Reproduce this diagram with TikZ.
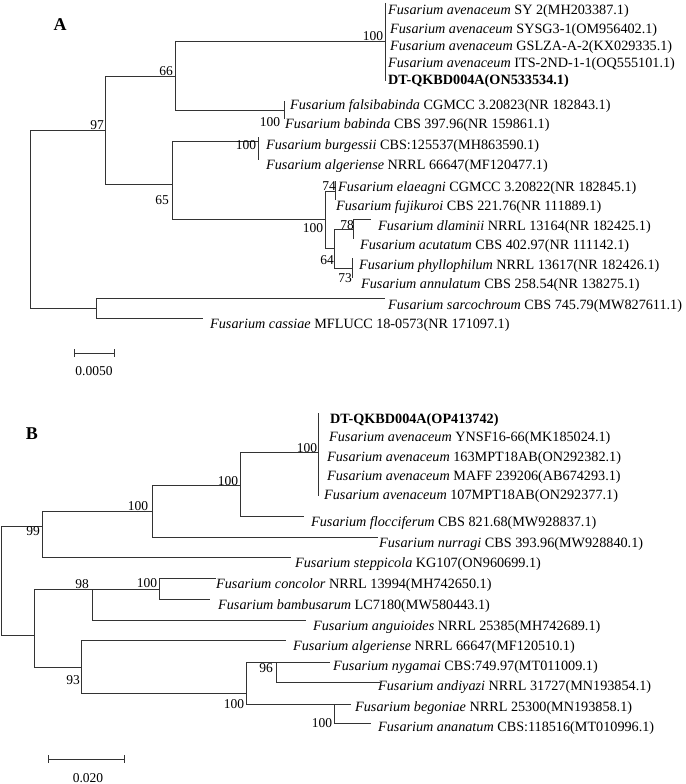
\documentclass[tikz,border=0pt]{standalone}
\usepackage{fontspec}
\setmainfont{Liberation Serif}
\begin{document}
\begin{tikzpicture}[x=1pt,y=-1pt,
  br/.style={draw=black!80,line width=0.8pt},
  lf/.style={anchor=west,font=\fontsize{14.2}{16}\selectfont,inner sep=0pt},
  bs/.style={font=\fontsize{13.5}{15}\selectfont,inner sep=0pt}]
\useasboundingbox (0,0) rectangle (685,784);
% ---------- A ----------
\node[font=\bfseries\fontsize{18}{20}\selectfont] (lA) at (60,25) {A};
\draw[br] (30,130) -- (30,308);
\draw[br] (30,130) -- (105,130) (105,76) -- (105,184);
\draw[br] (105,76) -- (175,76) (175,41) -- (175,110);
\draw[br] (175,41) -- (385,41) (385,3) -- (385,81);
\draw[br] (175,110) -- (284,110) (284,101) -- (284,119);
\draw[br] (105,184) -- (172,184) (172,141) -- (172,219);
\draw[br] (172,141) -- (258,141) (258,137) -- (258,160);
\draw[br] (172,219) -- (325,219) (325,191) -- (325,248);
\draw[br] (325,191) -- (335,191) (335,181) -- (335,200);
\draw[br] (325,248) -- (334,248) (334,229) -- (334,268);
\draw[br] (334,229) -- (353,229) (353,219) -- (353,239);
\draw[br] (353,219) -- (371,219);
\draw[br] (334,268) -- (352,268) (352,258) -- (352,278);
\draw[br] (30,308) -- (96,308) (96,298) -- (96,318);
\draw[br] (96,298) -- (385,298) (96,318) -- (203,318);
\node[bs] at (97,125) {97};
\node[bs] at (166,71) {66};
\node[bs] at (373,36) {100};
\node[bs] at (270,122) {100};
\node[bs] at (162,200) {65};
\node[bs] at (246,145) {100};
\node[bs] at (313,228) {100};
\node[bs] at (329,186) {74};
\node[bs] at (327,260) {64};
\node[bs] at (347,225) {78};
\node[bs] at (345,278) {73};
\node[lf] at (388,11) {\textit{Fusarium avenaceum} SY 2(MH203387.1)};
\node[lf] at (390,30) {\textit{Fusarium avenaceum} SYSG3-1(OM956402.1)};
\node[lf] at (390,47) {\textit{Fusarium avenaceum} GSLZA-A-2(KX029335.1)};
\node[lf] at (388,64) {\textit{Fusarium avenaceum} ITS-2ND-1-1(OQ555101.1)};
\node[lf] at (388,81) {\textbf{DT-QKBD004A(ON533534.1)}};
\node[lf] at (290,106) {\textit{Fusarium falsibabinda} CGMCC 3.20823(NR 182843.1)};
\node[lf] at (285,125) {\textit{Fusarium babinda} CBS 397.96(NR 159861.1)};
\node[lf] at (266,146) {\textit{Fusarium burgessii} CBS:125537(MH863590.1)};
\node[lf] at (266,166) {\textit{Fusarium algeriense} NRRL 66647(MF120477.1)};
\node[lf] at (338,188) {\textit{Fusarium elaeagni} CGMCC 3.20822(NR 182845.1)};
\node[lf] at (336,207) {\textit{Fusarium fujikuroi} CBS 221.76(NR 111889.1)};
\node[lf] at (378,227) {\textit{Fusarium dlaminii} NRRL 13164(NR 182425.1)};
\node[lf] at (360,246) {\textit{Fusarium acutatum} CBS 402.97(NR 111142.1)};
\node[lf] at (359,266) {\textit{Fusarium phyllophilum} NRRL 13617(NR 182426.1)};
\node[lf] at (361,285) {\textit{Fusarium annulatum} CBS 258.54(NR 138275.1)};
\node[lf] at (388,306) {\textit{Fusarium sarcochroum} CBS 745.79(MW827611.1)};
\node[lf] at (210,325) {\textit{Fusarium cassiae} MFLUCC 18-0573(NR 171097.1)};
\draw[br] (74,353) -- (114,353) (74,349) -- (74,357) (114,349) -- (114,357);
\node[bs] at (94,371) {0.0050};
% ---------- B ----------
\node[font=\bfseries\fontsize{18}{20}\selectfont] (lB) at (32,434) {B};
\draw[br] (1,526) -- (1,635);
\draw[br] (1,526) -- (42,526) (42,511) -- (42,557);
\draw[br] (42,511) -- (152,511) (152,485) -- (152,537);
\draw[br] (152,485) -- (240,485) (240,452) -- (240,516);
\draw[br] (240,452) -- (318,452) (318,413) -- (318,496);
\draw[br] (240,516) -- (304,516);
\draw[br] (152,537) -- (378,537);
\draw[br] (42,557) -- (291,557);
\draw[br] (1,635) -- (34,635) (34,589) -- (34,667);
\draw[br] (34,589) -- (159,589) (92,589) -- (92,620);
\draw[br] (159,578) -- (159,599);
\draw[br] (159,578) -- (216,578) (159,599) -- (210,599);
\draw[br] (92,620) -- (306,620);
\draw[br] (34,667) -- (81,667) (81,640) -- (81,693);
\draw[br] (81,640) -- (286,640);
\draw[br] (81,693) -- (246,693) (246,662) -- (246,704);
\draw[br] (246,662) -- (276,662) (276,662) -- (276,682);
\draw[br] (276,662) -- (330,662) (276,682) -- (380,682);
\draw[br] (246,704) -- (334,704) (334,704) -- (334,723);
\draw[br] (334,704) -- (351,704) (334,723) -- (371,723);
\node[bs] at (33,531) {99};
\node[bs] at (138,506) {100};
\node[bs] at (228,481) {100};
\node[bs] at (307,448) {100};
\node[bs] at (82,584) {98};
\node[bs] at (147,583) {100};
\node[bs] at (73,680) {93};
\node[bs] at (266,668) {96};
\node[bs] at (234,704) {100};
\node[bs] at (322,723) {100};
\node[lf] at (330,420) {\textbf{DT-QKBD004A(OP413742)}};
\node[lf] at (329,438) {\textit{Fusarium avenaceum} YNSF16-66(MK185024.1)};
\node[lf] at (327,458) {\textit{Fusarium avenaceum} 163MPT18AB(ON292382.1)};
\node[lf] at (327,477) {\textit{Fusarium avenaceum} MAFF 239206(AB674293.1)};
\node[lf] at (324,496) {\textit{Fusarium avenaceum} 107MPT18AB(ON292377.1)};
\node[lf] at (311,523) {\textit{Fusarium flocciferum} CBS 821.68(MW928837.1)};
\node[lf] at (379,544) {\textit{Fusarium nurragi} CBS 393.96(MW928840.1)};
\node[lf] at (295,564) {\textit{Fusarium steppicola} KG107(ON960699.1)};
\node[lf] at (216,585) {\textit{Fusarium concolor} NRRL 13994(MH742650.1)};
\node[lf] at (218,606) {\textit{Fusarium bambusarum} LC7180(MW580443.1)};
\node[lf] at (313,627) {\textit{Fusarium anguioides} NRRL 25385(MH742689.1)};
\node[lf] at (293,647) {\textit{Fusarium algeriense} NRRL 66647(MF120510.1)};
\node[lf] at (333,667) {\textit{Fusarium nygamai} CBS:749.97(MT011009.1)};
\node[lf] at (378,687) {\textit{Fusarium andiyazi} NRRL 31727(MN193854.1)};
\node[lf] at (355,708) {\textit{Fusarium begoniae} NRRL 25300(MN193858.1)};
\node[lf] at (378,728) {\textit{Fusarium ananatum} CBS:118516(MT010996.1)};
\draw[br] (48,759) -- (124,759) (48,755) -- (48,763) (124,755) -- (124,763);
\node[bs] at (88,778) {0.020};
\end{tikzpicture}
\end{document}
